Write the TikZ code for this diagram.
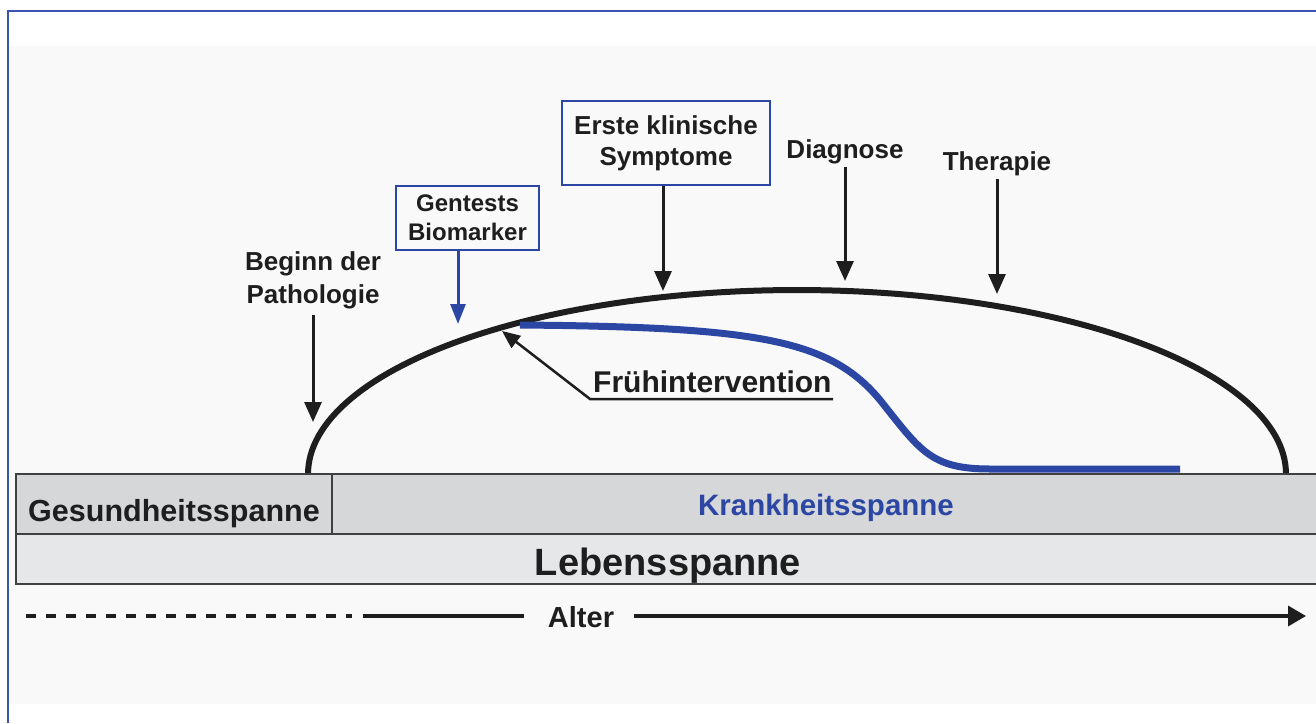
\documentclass[tikz,border=0pt]{standalone}
\usepackage{fontspec}
\setmainfont{Liberation Sans}
\usetikzlibrary{arrows.meta}
\definecolor{txt}{HTML}{1E1E1E}
\definecolor{myblue}{HTML}{2B47A3}
\definecolor{framebl}{HTML}{3A55B0}
\definecolor{bgc}{HTML}{F9F9F9}
\definecolor{barA}{HTML}{D6D7D9}
\definecolor{barB}{HTML}{E6E7E8}
\tikzset{
  lbl/.style={text=txt, font=\bfseries, align=center, inner sep=3pt},
  bluebox/.style={lbl, draw=myblue, line width=2pt, fill=bgc, inner sep=0pt},
  barbox/.style={draw=txt!85, line width=1.5pt, inner sep=0pt, text=txt, font=\bfseries},
  downarr/.style={draw=txt, line width=3pt, -{Triangle[length=20pt,width=17pt]}},
  bluearr/.style={draw=myblue, line width=3pt, -{Triangle[length=20pt,width=15pt]}},
}
\begin{document}
\begin{tikzpicture}[x=1pt,y=-1pt]
\useasboundingbox (0,0) rectangle (1316,723);
\fill[white] (0,0) rectangle (1316,723);
\fill[bgc] (9,46) rectangle (1316,704);
\draw[framebl, line width=2pt] (8,723) -- (8,11) -- (1316,11);

% disease arc
\draw[txt, line width=6pt] plot[domain=180:360, samples=120] ({797+489*cos(\x)},{474+184*sin(\x)});

% early intervention course
\draw[myblue, line width=7pt] (520,325) .. controls (760,327) and (830,340) .. (880,400)
  .. controls (920,450) and (930,469) .. (990,469) -- (1180,469);

% bars
\node[barbox, fill=barB, minimum width=1304pt, minimum height=50pt, text height=40pt, text depth=8pt, font=\fontsize{38}{44}\selectfont\bfseries] (leben) at (668,559) {Lebensspanne};
\node[barbox, fill=barA, minimum width=316pt, minimum height=60pt, text height=44pt, text depth=10pt, font=\fontsize{30.5}{36}\selectfont\bfseries] (gesund) at (174,504) {Gesundheitsspanne};
\node[barbox, fill=barA, minimum width=988pt, minimum height=60pt, text height=36pt, text depth=14pt, text=myblue, font=\fontsize{29.5}{35}\selectfont\bfseries] (krank) at (826,504) {Krankheitsspanne};

% top labels
\node[lbl, font=\fontsize{26}{33}\selectfont\bfseries] (beginn) at (313,280) {Beginn der\\Pathologie};
\node[bluebox, minimum width=143pt, minimum height=64pt, font=\fontsize{24}{29}\selectfont\bfseries] (gen) at (467.5,218) {Gentests\\Biomarker};
\node[bluebox, minimum width=208pt, minimum height=84pt, font=\fontsize{26}{31}\selectfont\bfseries] (sym) at (666,143) {Erste klinische\\Symptome};
\node[lbl, font=\fontsize{26}{32}\selectfont\bfseries] (diag) at (845,152) {Diagnose};
\node[lbl, font=\fontsize{26}{32}\selectfont\bfseries] (ther) at (997,164) {Therapie};

\coordinate (tBeg) at (313,422);
\coordinate (tGen) at (458,324);
\coordinate (tSym) at (663,291);
\coordinate (tDia) at (845,281);
\coordinate (tThe) at (997,294);
\draw[downarr] ([yshift=-3pt]beginn.south) -- (tBeg);
\draw[bluearr] (gen.south -| tGen) -- (tGen);
\draw[downarr] (sym.south -| tSym) -- (tSym);
\draw[downarr] (diag.south) -- (tDia);
\draw[downarr] (ther.south) -- (tThe);

% Fruehintervention
\node[lbl, anchor=base west, inner sep=0pt, font=\fontsize{30}{36}\selectfont\bfseries] (frueh) at (593,392) {Frühintervention};
\coordinate (fk) at (590,399);
\coordinate (fe) at (833,399);
\coordinate (fTip) at (502,331);
\draw[txt, line width=2.5pt, -{Triangle[length=18pt,width=15pt]}] (fe) -- (fk) -- (fTip);

% Alter axis
\node[lbl, inner sep=0pt, font=\fontsize{29}{35}\selectfont\bfseries] (alter) at (581,617) {Alter};
\coordinate (a0) at (26,616);
\coordinate (a1) at (352,616);
\coordinate (a2) at (363,616);
\coordinate (a3) at (524,616);
\coordinate (a4) at (634,616);
\coordinate (a5) at (1306,616);
\draw[txt, line width=3.5pt, dash pattern=on 10pt off 10pt] (a0) -- (a1);
\draw[txt, line width=3.5pt] (a2) -- (a3);
\draw[txt, line width=3.5pt, -{Triangle[length=18pt,width=20pt]}] (a4) -- (a5);
\end{tikzpicture}
\end{document}
